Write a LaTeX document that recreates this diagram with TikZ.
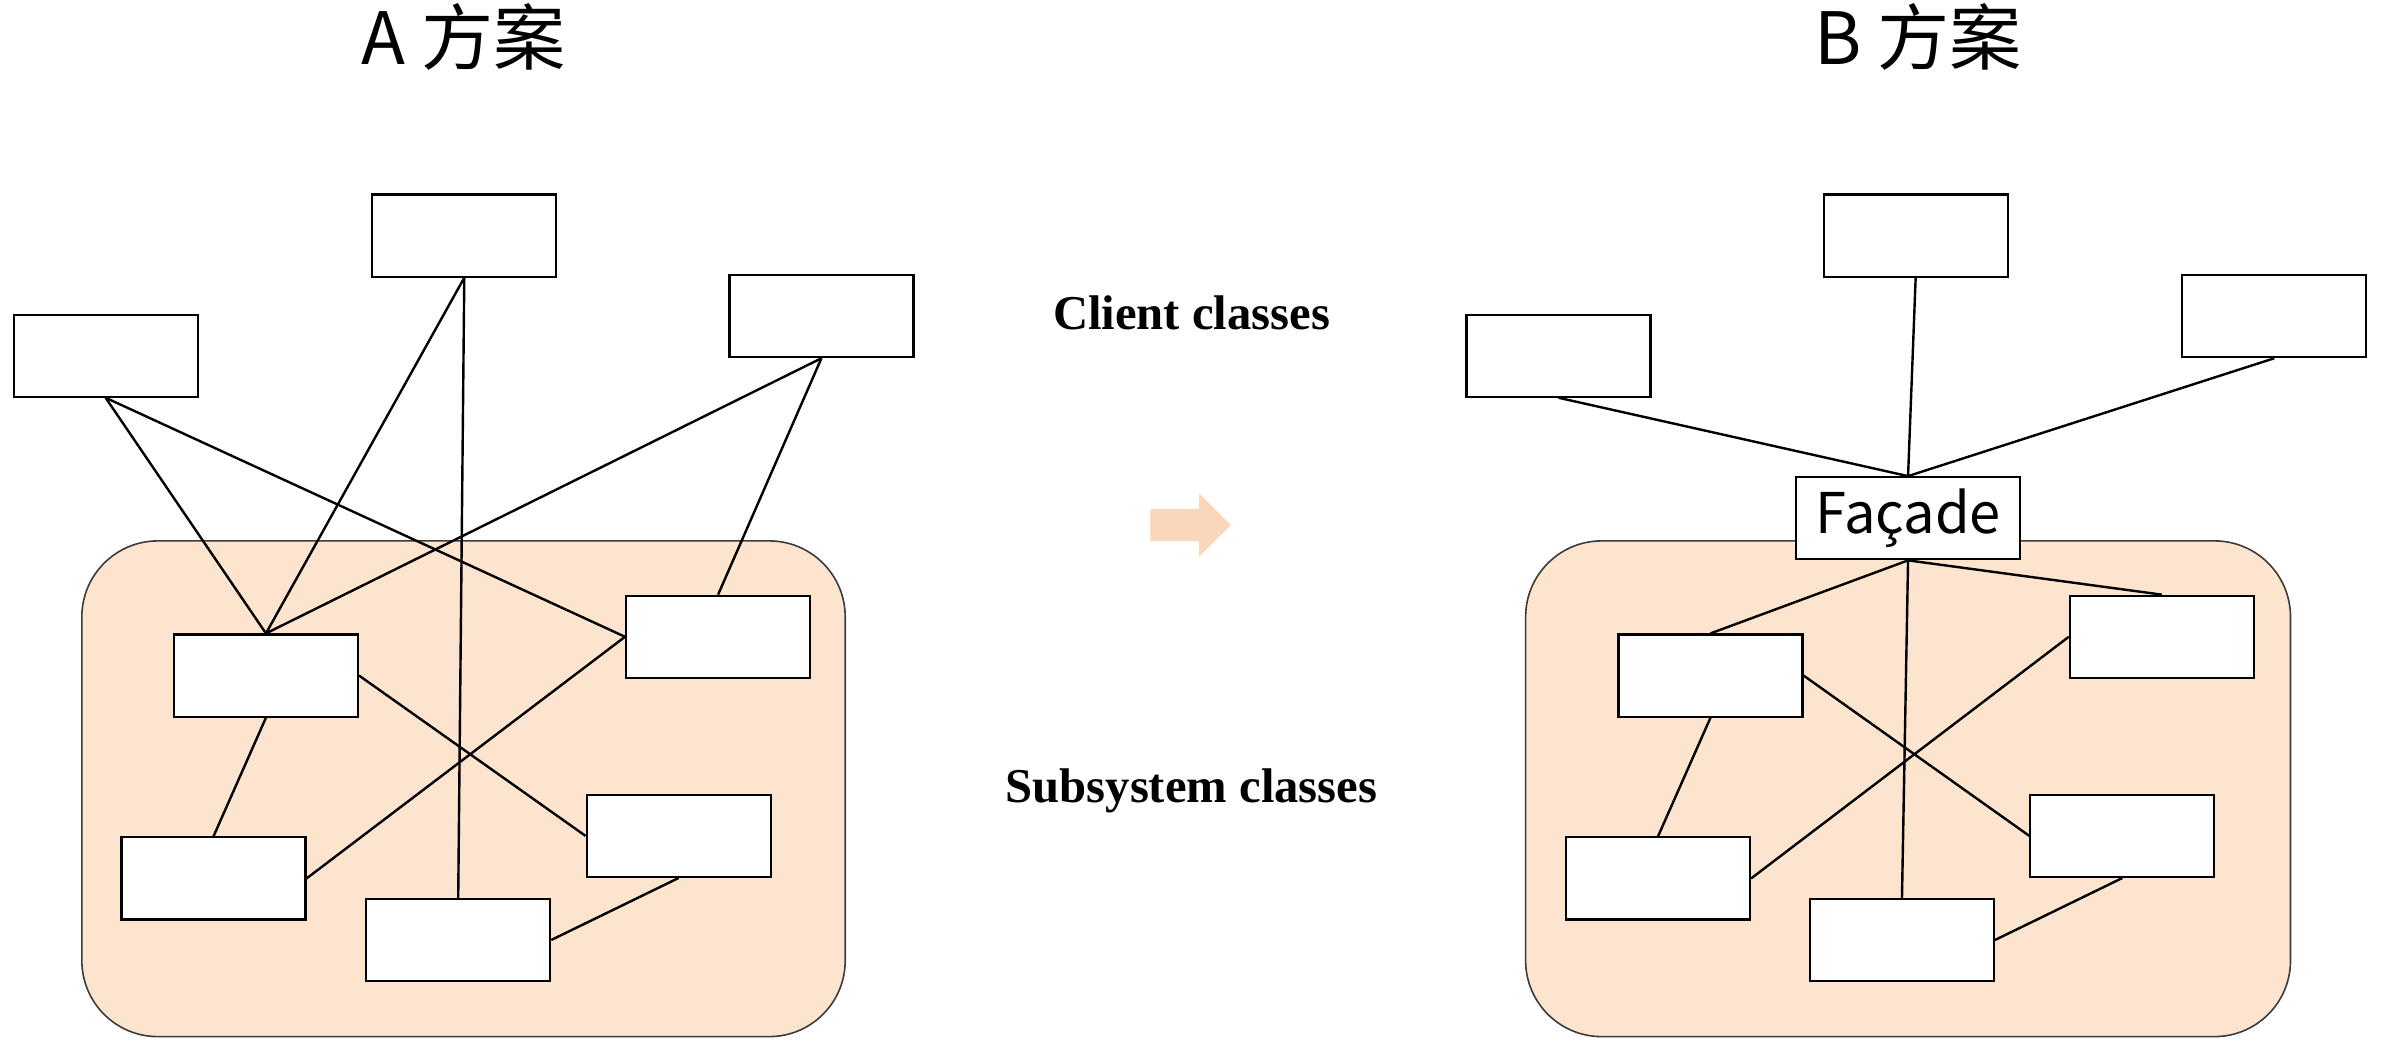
\documentclass[tikz,border=0pt]{standalone}
\usepackage{fontspec}
\newfontfamily\cjkfont{Noto Sans CJK SC}
\newfontfamily\labelfont{Liberation Serif}
\usepackage{xcolor}
\definecolor{subsysfill}{RGB}{252,228,206}
\definecolor{subsysline}{RGB}{60,60,60}
\definecolor{arrowfill}{RGB}{250,215,186}
\tikzset{
	classbox/.style={shape=rectangle, draw, fill=white, line width=0.4pt, inner sep=0, minimum width=1.21cm, minimum height=0.54cm},
	subsys/.style={shape=rectangle, draw=subsysline, fill=subsysfill, line width=0.3pt, rounded corners=0.5cm, inner sep=0, minimum width=5.02cm, minimum height=3.26cm},
	wire/.style={line width=0.45pt},
	titletext/.style={anchor=base, font={\cjkfont\fontsize{13.5pt}{16pt}\selectfont}},
	roletext/.style={anchor=base, font={\labelfont\bfseries\fontsize{9.1pt}{11pt}\selectfont}},
}

\begin{document}
\begin{tikzpicture}[x=0.01cm, y=-0.01cm]
	\useasboundingbox (0,0) rectangle (1568,697);
	% Titles and labels:
	\node[titletext] (TitleA) at (305, 42.6) {A 方案};
	\node[titletext] (TitleB) at (1262, 42.6) {B 方案};
	\node[roletext] (Clients) at (784, 217) {Client classes};
	\node[roletext] (Subsystems) at (784, 528) {Subsystem classes};
	\fill[arrowfill] (757, 335) -- (789, 335) -- (789, 324.6) -- (810, 345.5) -- (789, 366.3) -- (789, 356) -- (757, 356) -- cycle;
	% A: clients talk to the subsystem classes directly
	\node[subsys] (SysA) at (305, 519) {};
	\node[classbox] (CA1) at (69.5, 234) {};
	\node[classbox] (CA2) at (305.5, 155) {};
	\node[classbox] (CA3) at (540.5, 208) {};
	\node[classbox] (SA1) at (175, 444.5) {};
	\node[classbox] (SA2) at (472.5, 419) {};
	\node[classbox] (SA3) at (140.5, 578) {};
	\node[classbox] (SA4) at (446.5, 550) {};
	\node[classbox] (SA5) at (301.5, 618.5) {};
	\draw[wire] (CA1.south) -- (SA1.north);
	\draw[wire] (CA1.south) -- (SA2.west);
	\draw[wire] (CA2.south) -- (SA1.north);
	\draw[wire] (CA2.south) -- (SA5.north);
	\draw[wire] (CA3.south) -- (SA1.north);
	\draw[wire] (CA3.south) -- (SA2.north);
	\draw[wire] (SA1.east) -- (SA4.west);
	\draw[wire] (SA1.south) -- (SA3.north);
	\draw[wire] (SA2.west) -- (SA3.east);
	\draw[wire] (SA4.south) -- (SA5.east);
	% B: clients go through the facade
	\node[subsys, minimum width=5.03cm] (SysB) at (1255.5, 519) {};
	\node[classbox] (CB1) at (1025.5, 234) {};
	\node[classbox] (CB2) at (1260.5, 155) {};
	\node[classbox] (CB3) at (1496.5, 208) {};
	\node[classbox, minimum width=1.47cm, font={\cjkfont\fontsize{10.5pt}{12pt}\selectfont}] (Facade) at (1255.5, 341) {Façade};
	\node[classbox] (SB1) at (1125.5, 444.5) {};
	\node[classbox] (SB2) at (1422.5, 419) {};
	\node[classbox] (SB3) at (1091, 578) {};
	\node[classbox] (SB4) at (1396.5, 550) {};
	\node[classbox] (SB5) at (1251.5, 618.5) {};
	\draw[wire] (CB1.south) -- (Facade.north);
	\draw[wire] (CB2.south) -- (Facade.north);
	\draw[wire] (CB3.south) -- (Facade.north);
	\draw[wire] (Facade.south) -- (SB1.north);
	\draw[wire] (Facade.south) -- (SB2.north);
	\draw[wire] (Facade.south) -- (SB5.north);
	\draw[wire] (SB1.east) -- (SB4.west);
	\draw[wire] (SB1.south) -- (SB3.north);
	\draw[wire] (SB2.west) -- (SB3.east);
	\draw[wire] (SB4.south) -- (SB5.east);
\end{tikzpicture}
\end{document}
